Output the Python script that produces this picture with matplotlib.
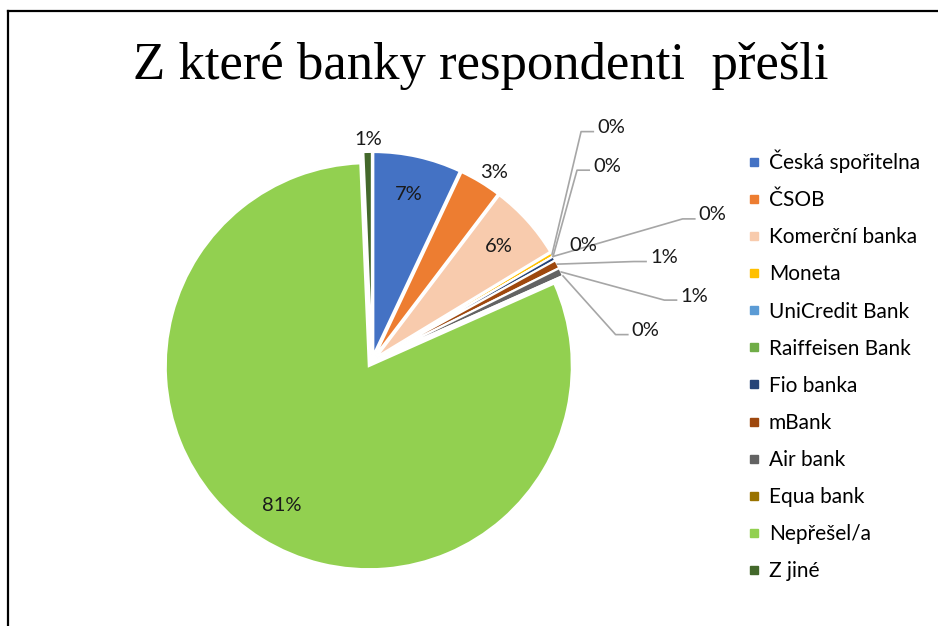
import numpy as np
import matplotlib.pyplot as plt
from matplotlib.lines import Line2D

# Data (respondent counts)
banks = ['Česká spořitelna', 'ČSOB', 'Komerční banka', 'Moneta', 'UniCredit Bank',
         'Raiffeisen Bank', 'Fio banka', 'mBank', 'Air bank', 'Equa bank',
         'Nepřešel/a', 'Z jiné']
counts = [21, 10, 18, 1, 0, 0, 1, 2, 2, 0, 243, 2]
colors = ['#4472C4', '#ED7D31', '#F8CBAD', '#FFC000', '#5B9BD5', '#70AD47',
          '#264478', '#9E480E', '#636363', '#997300', '#92D050', '#43682B']
title = 'Z které banky respondenti  přešli'

# label placement for each slice: None = inside, otherwise (x, y, leader)
label_pos = [None, (0.60, 0.93, False), None,
             (1.11, 1.15, True), (1.09, 0.96, True), (1.61, 0.72, True),
             (0.97, 0.57, False), (1.37, 0.51, True), (1.52, 0.32, True),
             (1.28, 0.15, True), None, (-0.02, 1.09, False)]
inside_r = [0.81, 0.0, 0.81, 0, 0, 0, 0, 0, 0, 0, 0.81, 0]

W, H = 938, 626
fig = plt.figure(figsize=(W / 100, H / 100), dpi=100)

# frame line (left + top)
fig.add_artist(Line2D([8 / W, 8 / W], [0, 1 - 11 / H], color='black', lw=1.6))
fig.add_artist(Line2D([8 / W, 1], [1 - 11 / H, 1 - 11 / H], color='black', lw=1.6))

fig.text(481 / W, 1 - 66 / H, title, ha='center', va='center',
         fontsize=38, family='Liberation Serif')

R = 203.0
cx, cy = 372, 361
half = 230
ax = fig.add_axes([(cx - half) / W, 1 - (cy + half) / H, 2 * half / W, 2 * half / H])

total = sum(counts)
explode = [0.03] * len(counts)
wedges, _ = ax.pie(counts, colors=colors, startangle=90, counterclock=False,
                   explode=explode, radius=1.0,
                   wedgeprops=dict(edgecolor='white', linewidth=1.5))
ax.set_xlim(-half / R, half / R)
ax.set_ylim(-half / R, half / R)
ax.set_aspect('equal')
ax.axis('off')

lab_font = dict(fontsize=14.5, family='Lato', color='#1a1a1a')
for i, w in enumerate(wedges):
    pct = 100.0 * counts[i] / total
    txt = f'{pct:.0f}%'
    mid = np.deg2rad((w.theta1 + w.theta2) / 2)
    cxw, cyw = w.center
    if label_pos[i] is None:
        r = inside_r[i]
        ax.text(cxw + r * np.cos(mid), cyw + r * np.sin(mid), txt,
                ha='center', va='center', **lab_font)
    else:
        lx, ly, leader = label_pos[i]
        ax.text(lx, ly, txt, ha='left' if leader or i == 6 else 'center',
                va='center', clip_on=False, **lab_font)
        if leader:
            ex, ey = cxw + np.cos(mid), cyw + np.sin(mid)
            ax.plot([ex, lx - 0.08, lx - 0.02], [ey, ly - 0.02, ly - 0.02],
                    color='#A6A6A6', lw=1.2, clip_on=False)

handles = [Line2D([], [], marker='s', ls='', color=c, markersize=6) for c in colors]
fig.legend(handles, banks, loc='upper left', bbox_to_anchor=(725 / W, 1 - 131 / H),
           frameon=False, prop=dict(family='Lato', size=15),
           labelspacing=0.82, handletextpad=0.2, handlelength=1.0)

fig.savefig('out.png', dpi=100)
